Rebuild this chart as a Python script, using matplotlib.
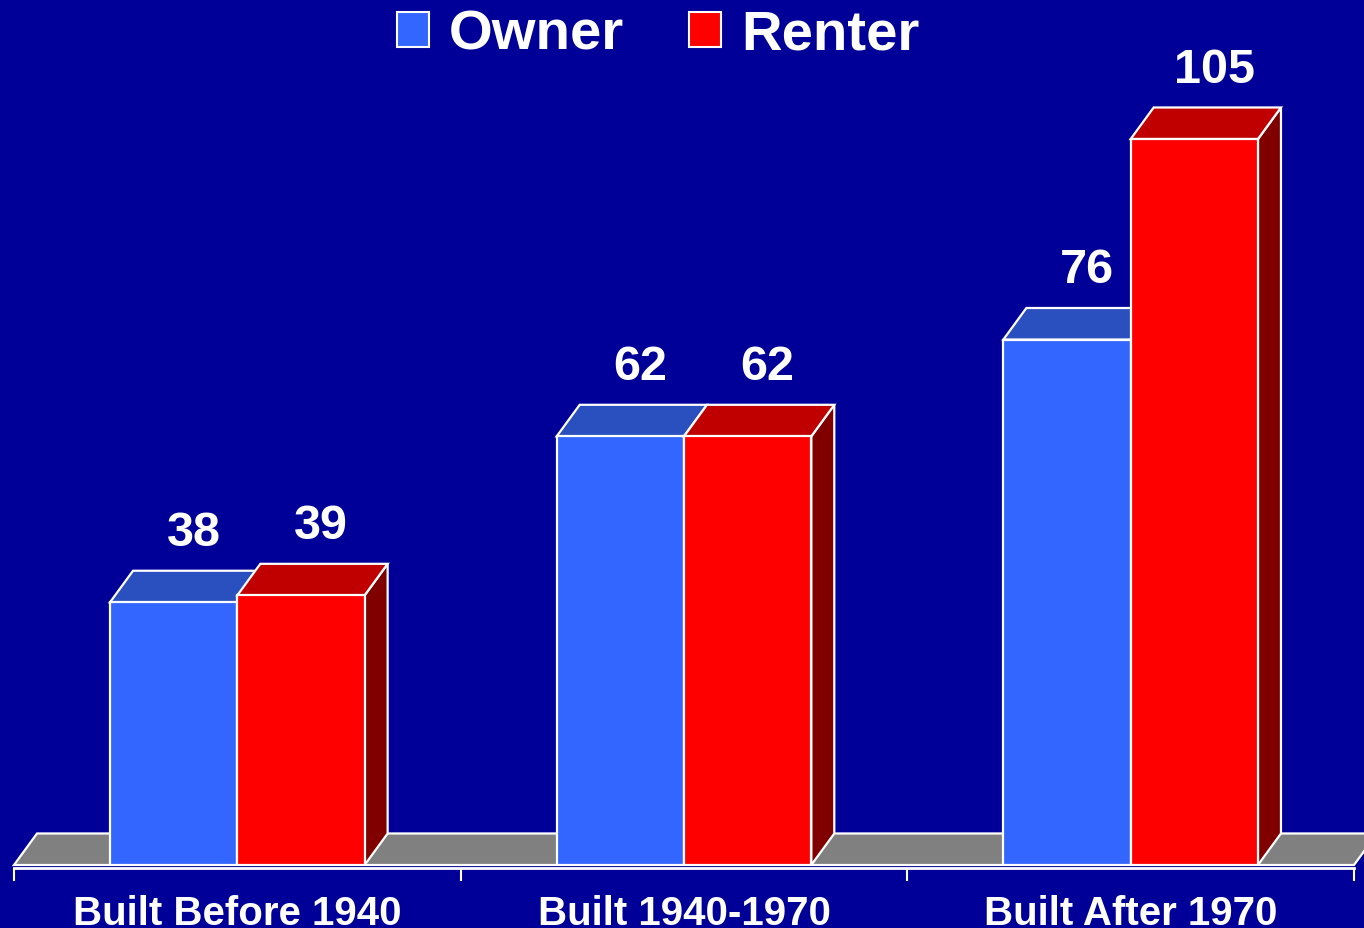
import matplotlib
matplotlib.use('Agg')
import matplotlib.pyplot as plt
from matplotlib.patches import Polygon, Patch

# Data
categories = ['Built Before 1940', 'Built 1940-1970', 'Built After 1970']
series = ['Owner', 'Renter']
owner = [38, 62, 76]
renter = [39, 62, 105]

# Kleuren: voorkant, bovenkant, zijkant
kleuren = {
    'Owner': ('#3366FF', '#2A50C0', '#1A3399'),
    'Renter': ('#FF0000', '#C00000', '#800000'),
}
bg = '#000099'

plt.rcParams['font.family'] = ['Liberation Sans', 'DejaVu Sans']
plt.rcParams['font.weight'] = 'bold'

fig = plt.figure(figsize=(13.64, 9.29), dpi=100, facecolor=bg)
ax = fig.add_axes([14 / 1364, 63 / 929, 1340 / 1364, 866 / 929])
ax.set_facecolor(bg)
ax.set_xlim(-0.5, 2.5)
ax.set_ylim(0, 125.25)

# 3D-diepte (in data-eenheden)
ddx = 0.0515
ddy = 4.56
bar_w = 0.285
lw = 1.6


def box(x0, w, h, cols, z):
    front, top, side = cols
    # zijkant
    ax.add_patch(Polygon([(x0 + w, 0), (x0 + w + ddx, ddy), (x0 + w + ddx, h + ddy), (x0 + w, h)],
                         closed=True, facecolor=side, edgecolor='white', lw=lw, zorder=z))
    # bovenkant
    ax.add_patch(Polygon([(x0, h), (x0 + w, h), (x0 + w + ddx, h + ddy), (x0 + ddx, h + ddy)],
                         closed=True, facecolor=top, edgecolor='white', lw=lw, zorder=z))
    # voorkant
    ax.add_patch(Polygon([(x0, 0), (x0 + w, 0), (x0 + w, h), (x0, h)],
                         closed=True, facecolor=front, edgecolor='white', lw=lw, zorder=z))


# Vloer
ax.add_patch(Polygon([(-0.5, 0), (2.5, 0), (2.5 + ddx, ddy), (-0.5 + ddx, ddy)],
                     closed=True, facecolor='#808080', edgecolor='white', lw=lw, zorder=1,
                     clip_on=False))

for i, cat in enumerate(categories):
    for j, (naam, vals) in enumerate([('Owner', owner), ('Renter', renter)]):
        x0 = i - bar_w + j * bar_w
        box(x0, bar_w, vals[i], kleuren[naam], 2 + j)
        ax.text(x0 + bar_w / 2 + 0.045, vals[i] + ddy + 2.3, str(vals[i]),
                ha='center', va='bottom', color='white', fontsize=35, fontweight='bold')

# Assen
for s in ['top', 'right', 'left']:
    ax.spines[s].set_visible(False)
ax.spines['bottom'].set_color('white')
ax.spines['bottom'].set_linewidth(2)
ax.spines['bottom'].set_position(('outward', 2))
ax.set_yticks([])
ax.set_xticks(range(len(categories)))
ax.set_xticklabels(categories, color='white', fontsize=29, fontweight='bold')
ax.set_xticks([-0.5, 0.5, 1.5, 2.5], minor=True)
ax.tick_params(axis='x', which='major', length=0, pad=19)
ax.tick_params(axis='x', which='minor', length=9.5, width=1.5, color='white', direction='out')

# Legenda
handles = [Patch(facecolor=kleuren[s][0], edgecolor='white', lw=1.5, label=s) for s in series]
leg = fig.legend(handles=handles, loc='center', bbox_to_anchor=(658 / 1364, 1 - 36 / 929),
                 ncol=2, frameon=False, fontsize=40.5, handlelength=0.58, handleheight=0.58,
                 handletextpad=0.35, columnspacing=1.15, borderaxespad=0)
for t in leg.get_texts():
    t.set_color('white')
    t.set_fontweight('bold')

plt.savefig('out.png', dpi=100, facecolor=bg)
